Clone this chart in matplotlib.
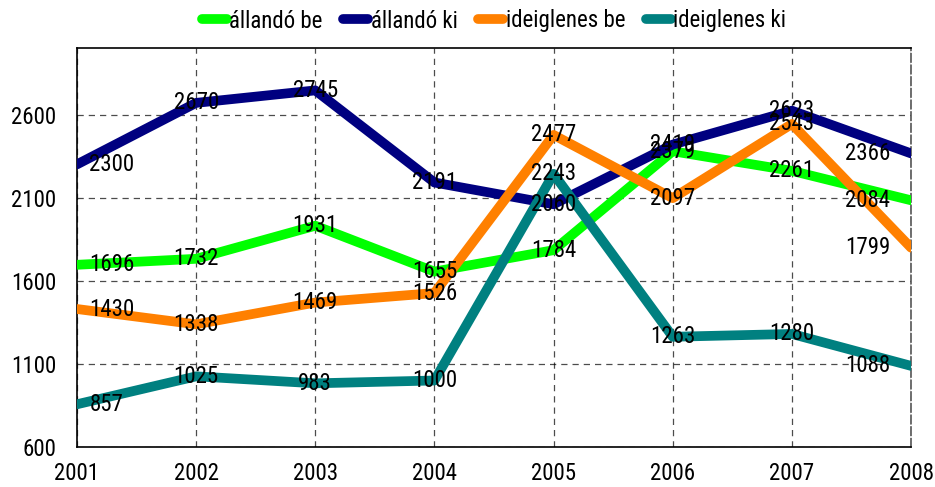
import matplotlib
matplotlib.use("Agg")
import matplotlib.pyplot as plt

years = [2001, 2002, 2003, 2004, 2005, 2006, 2007, 2008]
allando_be = [1696, 1732, 1931, 1655, 1784, 2379, 2261, 2084]
allando_ki = [2300, 2670, 2745, 2191, 2060, 2419, 2623, 2366]
ideiglenes_be = [1430, 1338, 1469, 1526, 2477, 2097, 2543, 1799]
ideiglenes_ki = [857, 1025, 983, 1000, 2243, 1263, 1280, 1088]
series_names = ["állandó be", "állandó ki", "ideiglenes be", "ideiglenes ki"]
y_ticks = [600, 1100, 1600, 2100, 2600]

colors = ["#00FF00", "#000080", "#FF8000", "#008080"]

plt.rcParams['font.family'] = ['Roboto Condensed', 'DejaVu Sans']

FS = 16.5
fig = plt.figure(figsize=(9.35, 4.87), dpi=100)
ax = fig.add_axes([77/935, 1-447/487, (911-77)/935, (447-48)/487])

data = [allando_be, allando_ki, ideiglenes_be, ideiglenes_ki]
for name, vals, c in zip(series_names, data, colors):
    ax.plot(years, vals, color=c, lw=7, solid_capstyle='round', solid_joinstyle='round', label=name, zorder=3)

for vals in data:
    for i, (x, v) in enumerate(zip(years, vals)):
        if i == 0:
            ax.annotate(str(v), (x, v), xytext=(9, 0), textcoords='offset points',
                        ha='left', va='center', fontsize=FS, zorder=5)
        elif i == len(years) - 1:
            ax.annotate(str(v), (x, v), xytext=(-15, 0), textcoords='offset points',
                        ha='right', va='center', fontsize=FS, zorder=5)
        else:
            ax.annotate(str(v), (x, v), ha='center', va='center', fontsize=FS, zorder=5)

ax.set_xlim(2001, 2008)
ax.set_ylim(600, 3000)
ax.set_xticks(years)
ax.set_yticks(y_ticks)
ax.tick_params(axis='both', length=0, labelsize=FS)
ax.tick_params(axis='x', pad=11)
ax.tick_params(axis='y', pad=15)
ax.grid(True, color='black', linestyle=(0, (5, 4)), lw=0.9, alpha=0.7)
ax.set_axisbelow(True)
for s in ax.spines.values():
    s.set_color('black')
    s.set_linewidth(1.2)
ax.spines['right'].set_color('#555555')
ax.spines['right'].set_linestyle((0, (5, 2)))

leg = fig.legend(loc='center', bbox_to_anchor=(494/935, 1-21/487), ncol=4, frameon=False,
                 fontsize=FS, handlelength=1.1, handletextpad=0.1, columnspacing=0.9)
for h in leg.get_lines():
    h.set_linewidth(7)

fig.savefig("out.png", dpi=100)
